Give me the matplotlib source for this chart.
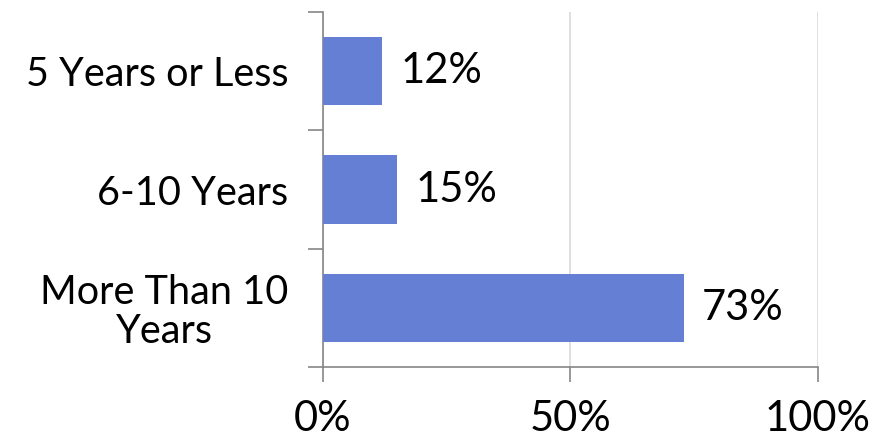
import matplotlib
matplotlib.use("Agg")
import matplotlib.pyplot as plt
from matplotlib.ticker import FixedLocator

categories = ["5 Years or Less", "6-10 Years", "More Than 10\nYears"]
values = [12, 15, 73]
xticks = [0, 50, 100]

plt.rcParams['font.family'] = ['Lato', 'DejaVu Sans']

fig = plt.figure(figsize=(8.9, 4.37), dpi=100)
ax = fig.add_axes([0.3629, 0.1602, 0.5562, 0.8123])

ypos = list(range(len(categories)))
ax.barh(ypos, values, height=0.58, color='#647fd4', zorder=3)
for y, v in zip(ypos, values):
    ax.text(v + 3.6, y, f"{v}%", va='center', ha='left', fontsize=30)

ax.set_xlim(0, 100)
ax.set_ylim(2.5, -0.5)
ax.set_xticks(xticks)
ax.set_xticklabels([f"{t}%" for t in xticks], fontsize=30)
ax.set_yticks(ypos)
ax.set_yticklabels(categories, fontsize=28.5, multialignment='center', linespacing=1.05)
ax.yaxis.set_minor_locator(FixedLocator([-0.5, 0.5, 1.5, 2.5]))
ax.tick_params(axis='y', which='major', length=0, pad=25)
ax.tick_params(axis='y', which='minor', length=11, color='#868686', width=1.2)
ax.tick_params(axis='x', length=11, color='#868686', width=1.2, pad=13)

ax.grid(axis='x', color='#d9d9d9', linewidth=1.2, zorder=0)
for s in ['top', 'right']:
    ax.spines[s].set_visible(False)
for s in ['left', 'bottom']:
    ax.spines[s].set_color('#868686')
    ax.spines[s].set_linewidth(1.2)

fig.savefig("out.png", dpi=100)
